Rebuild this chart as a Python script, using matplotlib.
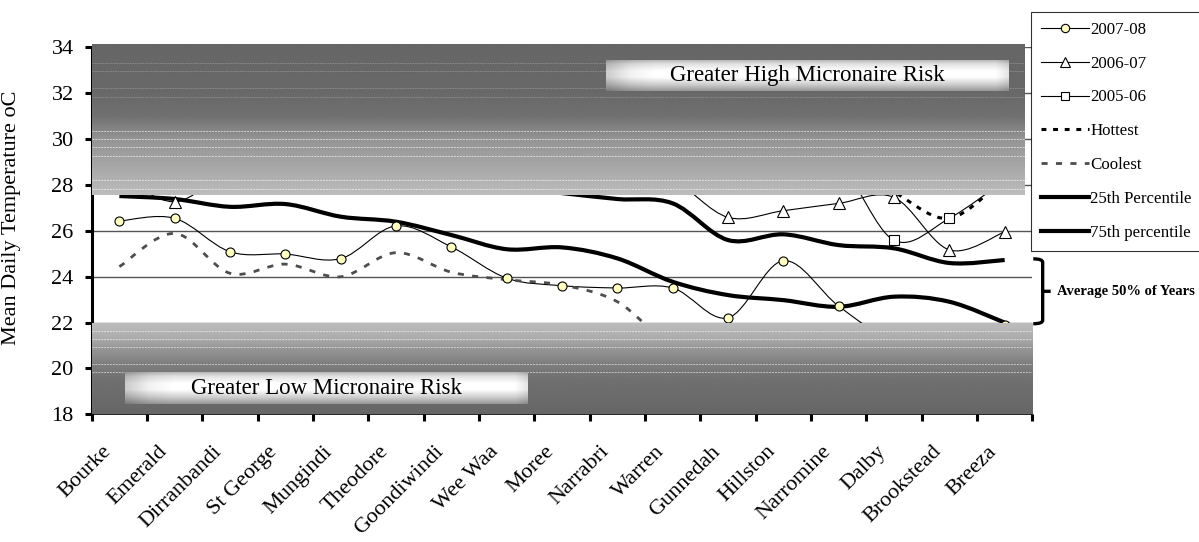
import numpy as np
import matplotlib
matplotlib.use("Agg")
import matplotlib.pyplot as plt
import matplotlib.transforms as mtransforms
from matplotlib.path import Path
from matplotlib.patches import PathPatch
from matplotlib.lines import Line2D

plt.rcParams['font.family'] = ['Liberation Serif', 'DejaVu Serif']

sites = ['Bourke', 'Emerald', 'Dirranbandi', 'St George', 'Mungindi', 'Theodore',
         'Goondiwindi', 'Wee Waa', 'Moree', 'Narrabri', 'Warren', 'Gunnedah',
         'Hillston', 'Narromine', 'Dalby', 'Brookstead', 'Breeza']

# values (those inside the shaded bands are hidden, so rough guesses)
yr_0708 = [26.43, 26.55, 25.09, 24.99, 24.79, 26.22, 25.30, 23.94, 23.61, 23.51,
           23.51, 22.21, 24.70, 22.72, 21.20, 21.40, 21.90]
yr_0607 = [28.4, 27.27, 28.6, 28.9, 28.5, 28.8, 29.0, 28.7, 28.9, 28.6,
           28.2, 26.59, 26.88, 27.20, 27.46, 25.17, 25.96]
yr_0506 = [29.5, 29.0, 29.8, 30.2, 29.6, 30.0, 29.4, 29.8, 29.2, 29.6,
           29.3, 28.8, 29.2, 28.9, 25.59, 26.55, 28.2]
hottest = [30.4, 30.8, 30.9, 31.0, 30.6, 30.8, 30.5, 30.3, 30.6, 30.2,
           29.8, 28.9, 29.6, 29.2, 27.7, 26.55, 28.3]
coolest = [24.44, 25.89, 24.15, 24.55, 24.00, 25.05, 24.20, 23.87, 23.64, 22.91,
           21.0, 20.8, 21.2, 21.0, 21.3, 21.9, 21.2]
pct25 = [27.52, 27.39, 27.05, 27.17, 26.62, 26.40, 25.82, 25.20, 25.28, 24.80,
         23.78, 23.20, 22.98, 22.69, 23.13, 22.91, 22.00]
pct75 = [29.0, 28.8, 28.6, 28.7, 28.3, 28.4, 28.2, 27.9, 27.65, 27.39,
         27.20, 25.60, 25.85, 25.38, 25.24, 24.60, 24.73]

yticks = [18, 20, 22, 24, 26, 28, 30, 32, 34]


def smooth_path(xs, ys):
    # Excel-style smoothed line: cubic bezier through the points
    pts = np.column_stack([xs, ys]).astype(float)
    n = len(pts)
    verts = [pts[0]]
    codes = [Path.MOVETO]
    for i in range(n - 1):
        p0 = pts[max(i - 1, 0)]
        p1 = pts[i]
        p2 = pts[i + 1]
        p3 = pts[min(i + 2, n - 1)]
        verts += [p1 + (p2 - p0) / 6, p2 - (p3 - p1) / 6, p2]
        codes += [Path.CURVE4] * 3
    return Path(verts, codes)


fig = plt.figure(figsize=(11.99, 5.42), dpi=100)
ax = fig.add_axes([0.0765, 0.2356, 0.7845, 0.6768])
x = np.arange(len(sites))

ax.set_xlim(-0.5, len(sites) - 0.5)
ax.set_ylim(18, 34)

# grid
for yv in yticks:
    ax.axhline(yv, color='#555555', lw=1.0, zorder=1)

hot_ls = (0, (1.6, 2.2))
cool_ls = (0, (2.2, 3.0))

# series
series = [
    (yr_0708, dict(color='black', lw=0.8, ls='-'), dict(marker='o', ms=6.5, mfc='#FFFFC4', mec='black', mew=0.8)),
    (yr_0607, dict(color='black', lw=0.8, ls='-'), dict(marker='^', ms=8, mfc='white', mec='black', mew=0.8)),
    (yr_0506, dict(color='black', lw=0.8, ls='-'), dict(marker='s', ms=7, mfc='white', mec='black', mew=0.8)),
    (hottest, dict(color='black', lw=2.2, ls=hot_ls), None),
    (coolest, dict(color='#4d4d4d', lw=2.0, ls=cool_ls), None),
    (pct25, dict(color='black', lw=3.0, ls='-'), None),
    (pct75, dict(color='black', lw=3.0, ls='-'), None),
]
for vals, lstyle, mstyle in series:
    p = PathPatch(smooth_path(x, vals), fill=False, edgecolor=lstyle['color'],
                  lw=lstyle['lw'], linestyle=lstyle['ls'], zorder=3, capstyle='butt')
    ax.add_patch(p)
    if mstyle:
        ax.plot(x, vals, linestyle='none', zorder=4, **mstyle)

# shaded bands (drawn over the lines, like the original)
top_y = [34.1, 32.0, 31.0, 30.4, 30.0, 29.0, 28.0, 27.55]
top_g = [0.40, 0.41, 0.44, 0.52, 0.58, 0.64, 0.71, 0.74]
yy = np.linspace(34.1, 27.55, 200)
grad = np.interp(yy, top_y[::-1], top_g[::-1])[:, None]
ax.imshow(grad, cmap='gray', vmin=0, vmax=1, aspect='auto', origin='upper',
          extent=(-0.5, 16.36, 27.55, 34.1), zorder=5, clip_on=False, interpolation='bilinear')
bot_y = [18.0, 19.5, 20.2, 20.9, 21.3, 21.93]
bot_g = [0.40, 0.44, 0.50, 0.60, 0.68, 0.74]
yy = np.linspace(21.93, 18.0, 200)
grad = np.interp(yy, bot_y, bot_g)[:, None]
ax.imshow(grad, cmap='gray', vmin=0, vmax=1, aspect='auto', origin='upper',
          extent=(-0.5, 16.55, 18.0, 21.93), zorder=5, interpolation='bilinear')

# faint streaks inside the bands
ax.hlines([33.33, 32.99, 32.24, 31.84], -0.5, 16.36, colors='white', alpha=0.25, lw=0.6,
          linestyles=(0, (2, 1)), zorder=5.5)
ax.hlines([30.34, 30.0, 29.67, 29.27, 28.22, 27.84], -0.5, 16.36, colors='white', alpha=0.6, lw=0.7,
          linestyles=(0, (2, 1)), zorder=5.5)
ax.hlines([21.64, 21.27, 20.93, 20.18, 19.83], -0.5, 16.55, colors='white', alpha=0.55, lw=0.7,
          linestyles=(0, (2, 1)), zorder=5.5)


def label_box(x0, x1, y0, y1, text):
    rows = np.linspace(0, 1, 60)
    v = np.interp(rows, [0, 0.12, 0.35, 0.55, 0.8, 1.0], [0.72, 0.88, 1.0, 1.0, 0.8, 0.6])
    cols = np.linspace(0, 1, 200)
    h = np.interp(cols, [0, 0.06, 0.12, 0.97, 1.0], [0.8, 0.95, 1.0, 1.0, 0.9])
    img = np.minimum(v[:, None] * h[None, :], 1.0)
    ax.imshow(img, cmap='gray', vmin=0, vmax=1, aspect='auto', origin='upper',
              extent=(x0, x1, y0, y1), zorder=6, interpolation='bilinear')
    ax.text((x0 + x1) / 2, (y0 + y1) / 2, text, ha='center', va='center',
            fontsize=16.5, zorder=7)


label_box(8.79, 16.07, 32.11, 33.45, 'Greater High Micronaire Risk')
label_box(0.10, 7.38, 18.45, 19.83, 'Greater Low Micronaire Risk')

# axes styling
for s in ['top', 'right']:
    ax.spines[s].set_visible(False)
ax.spines['left'].set_linewidth(2.2)
ax.spines['bottom'].set_linewidth(1.2)
ax.spines['left'].set_zorder(2)
ax.set_yticks(yticks)
ax.tick_params(axis='y', direction='out', length=5, width=2.2, pad=8, labelsize=16)
ax.set_xticks(x)
ax.set_xticks(np.arange(-0.5, len(sites)), minor=True)
ax.tick_params(axis='x', which='major', length=0, pad=20, labelsize=16)
ax.tick_params(axis='x', which='minor', direction='out', length=5, width=2.2)
ax.set_xticklabels(sites, rotation=45, ha='right', va='top')
offset = mtransforms.ScaledTranslation(-0.04, 0, fig.dpi_scale_trans)
for lab in ax.get_xticklabels():
    lab.set_transform(lab.get_transform() + offset)
ax.set_ylabel('Mean Daily Temperature oC', fontsize=16)
ax.yaxis.set_label_coords(-0.075, 0.535)

# legend
handles = [
    Line2D([], [], color='black', lw=0.8, marker='o', ms=6, mfc='#FFFFC4', mec='black', mew=0.8),
    Line2D([], [], color='black', lw=0.8, marker='^', ms=6.5, mfc='white', mec='black', mew=0.8),
    Line2D([], [], color='black', lw=0.8, marker='s', ms=6, mfc='white', mec='black', mew=0.8),
    Line2D([], [], color='black', lw=2.2, ls=hot_ls),
    Line2D([], [], color='#4d4d4d', lw=2.0, ls=cool_ls),
    Line2D([], [], color='black', lw=3.0),
    Line2D([], [], color='black', lw=3.0),
]
labels = ['2007-08', '2006-07', '2005-06', 'Hottest', 'Coolest', '25th Percentile', '75th percentile']
leg = ax.legend(handles, labels, loc='upper left', bbox_to_anchor=(1031 / 1199, 1 - 11.7 / 542),
                bbox_transform=fig.transFigure, fontsize=12.2, frameon=True, fancybox=False,
                handlelength=2.8, handletextpad=0.1, labelspacing=1.05, borderpad=0.6,
                borderaxespad=0, numpoints=1)
leg.get_frame().set_edgecolor('black')
leg.get_frame().set_linewidth(0.8)

# bracket spanning the 25th-75th percentile range at the last site
trans = mtransforms.blended_transform_factory(ax.transAxes, ax.transData)
ytop, ybot = pct75[-1] + 0.05, pct25[-1] - 0.05
ymid = (ytop + ybot) / 2
xa, xb, xc = 1.001, 1.011, 1.0195
bv = [(xa, ytop), (xb, ytop), (xb, ytop - 0.15), (xb, ytop - 0.3),
      (xb, ymid + 0.2), (xb, ymid + 0.2), (xb, ymid + 0.05), (xb, ymid), (xc, ymid),
      (xb, ymid), (xb, ymid - 0.05), (xb, ymid - 0.2), (xb, ymid - 0.2),
      (xb, ybot + 0.3), (xb, ybot + 0.15), (xb, ybot), (xa, ybot)]
bc = [Path.MOVETO, Path.CURVE3, Path.CURVE3, Path.LINETO,
      Path.LINETO, Path.LINETO, Path.CURVE3, Path.CURVE3, Path.LINETO,
      Path.MOVETO, Path.CURVE3, Path.CURVE3, Path.LINETO,
      Path.LINETO, Path.LINETO, Path.CURVE3, Path.CURVE3]
ax.add_patch(PathPatch(Path(bv, bc), fill=False, lw=2.4, edgecolor='black',
                       transform=trans, clip_on=False, zorder=8))
ax.text(1.026, ymid, 'Average 50% of Years', transform=trans, ha='left', va='center',
        fontsize=10.5, fontweight='bold', clip_on=False)

fig.savefig('out.png', dpi=100)
